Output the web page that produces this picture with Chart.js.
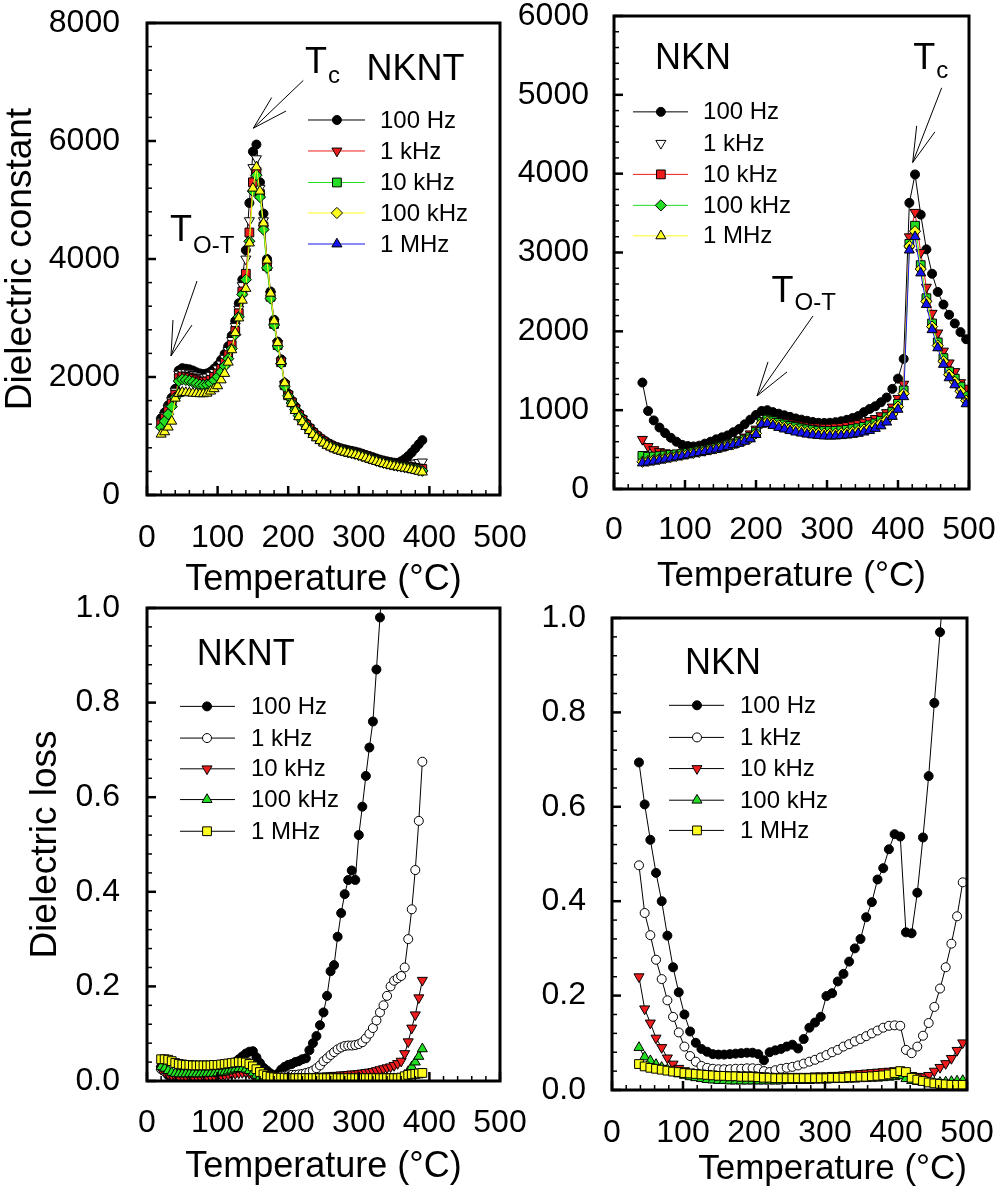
<!DOCTYPE html>
<html><head><meta charset="utf-8">
<script src="https://cdn.jsdelivr.net/npm/chart.js@4.4.0/dist/chart.umd.min.js"></script>
<style>
html,body{margin:0;padding:0;background:#fff;}
#wrap{position:relative;width:1002px;height:1193px;background:#fff;}
canvas{position:absolute;left:0;top:0;}
</style></head><body>
<div id="wrap">
<canvas id="c1" width="1002" height="1193"></canvas>
<canvas id="c2" width="1002" height="1193"></canvas>
<canvas id="c3" width="1002" height="1193"></canvas>
<canvas id="c4" width="1002" height="1193"></canvas>
</div>
<script>
const FONT = "'Liberation Sans', Arial, Helvetica, sans-serif";
const FREQ_LABELS = ['100 Hz', '1 kHz', '10 kHz', '100 kHz', '1 MHz'];
const X_TITLE = 'Temperature (°C)';
const X_TICKS = [0, 100, 200, 300, 400, 500];

// ---------- NKNT temperatures (°C) ----------
const T_NKNT = [20,25,30,35,40,45,50,55,60,65, 70,75,80,85,90,95,100,105,110,115,
  120,125,130,135,140,145,150,155,160,165, 170,175,180,185,190,195,200,205,210,215,
  220,225,230,235,240,245,250,255,260,265, 270,275,280,285,290,295,300,305,310,315,
  320,325,330,335,340,345,350,355,360,365, 370,375,380,385,390];

// NKNT dielectric constant
const NKNT_EPS_100Hz = [1300,1400,1520,1650,1800,2110,2150,2140,2130,2110,
  2080,2060,2050,2060,2090,2140,2200,2290,2390,2520,
  2700,2950,3250,3650,4150,4950,5820,5940,5300,4770,
  4000,3450,2970,2600,2300,1900,1720,1600,1500,1390,
  1300,1220,1150,1080,1020,970,930,890,860,830,
  810,790,775,760,748,735,720,700,680,660,
  640,620,600,585,570,558,548,545,570,610,
  660,720,790,860,930];
const NKNT_EPS_1kHz = [1250,1350,1470,1600,1760,2050,2080,2075,2065,2045,
  2020,2000,1990,2000,2030,2080,2140,2220,2320,2450,
  2620,2860,3150,3550,4000,4650,5550,5700,5200,4650,
  3920,3400,2930,2570,2270,1880,1700,1580,1470,1370,
  1285,1205,1135,1068,1008,958,918,878,848,818,
  797,777,760,745,732,718,702,683,663,643,
  623,603,584,568,553,540,530,522,518,520,
  525,533,542,552,560];
const NKNT_EPS_10kHz = [1200,1300,1420,1550,1700,1980,2010,2000,1990,1970,
  1945,1925,1915,1925,1950,2000,2060,2140,2240,2370,
  2540,2780,3080,3450,3750,4450,5300,5480,5100,4550,
  3880,3360,2900,2540,2250,1860,1690,1570,1455,1355,
  1272,1192,1122,1055,996,947,907,868,838,808,
  787,767,750,735,722,708,692,673,653,633,
  613,593,574,557,542,528,516,506,498,490,
  482,472,460,448,440];
const NKNT_EPS_100kHz = [1150,1250,1370,1500,1650,1930,1960,1950,1935,1915,
  1890,1870,1860,1870,1895,1945,2005,2085,2185,2310,
  2480,2720,3020,3400,3650,4300,5150,5420,5050,4500,
  3850,3330,2880,2520,2230,1840,1680,1560,1445,1345,
  1258,1178,1108,1042,984,935,895,857,827,797,
  776,756,739,724,711,697,681,662,642,622,
  602,582,563,546,531,517,504,493,483,473,
  462,450,437,422,410];
const NKNT_EPS_1MHz = [1030,1070,1150,1250,1640,1720,1740,1735,1730,1725,
  1720,1715,1715,1725,1760,1800,1850,1950,2060,2250,
  2460,2750,3000,3300,3500,4270,5200,5560,5150,4610,
  3980,3420,2950,2580,2260,1900,1680,1550,1430,1325,
  1240,1160,1090,1025,968,920,880,842,812,783,
  762,742,725,710,697,683,667,648,628,608,
  588,568,549,532,516,502,489,477,466,455,
  443,430,416,401,388];

// NKNT dielectric loss
const NKNT_LOSS_100Hz = [0.030,0.022,0.012,0.010,0.012,0.015,0.017,0.018,0.018,0.019,
  0.019,0.020,0.020,0.020,0.021,0.021,0.022,0.024,0.026,0.030,
  0.035,0.040,0.046,0.052,0.058,0.062,0.063,0.050,0.038,0.028,
  0.022,0.016,0.012,0.015,0.024,0.030,0.034,0.036,0.040,0.042,
  0.046,0.048,0.065,0.080,0.095,0.118,0.145,0.180,0.232,0.245,
  0.305,0.355,0.395,0.425,0.445,0.425,0.520,0.580,0.645,0.705,
  0.760,0.870,0.980,1.100,null,null,null,null,null,null,
  null,null,null,null,null];
const NKNT_LOSS_1kHz = [0.025,0.020,0.016,0.013,0.012,0.012,0.012,0.012,0.012,0.012,
  0.012,0.012,0.012,0.013,0.013,0.013,0.014,0.015,0.016,0.018,
  0.020,0.022,0.024,0.025,0.025,0.024,0.022,0.018,0.014,0.011,
  0.009,0.008,0.008,0.009,0.010,0.011,0.012,0.013,0.013,0.014,
  0.015,0.017,0.019,0.022,0.027,0.033,0.042,0.048,0.055,0.061,
  0.067,0.071,0.074,0.075,0.075,0.076,0.078,0.082,0.090,0.100,
  0.112,0.128,0.145,0.160,0.180,0.200,0.212,0.217,0.222,0.240,
  0.300,0.363,0.446,0.550,0.675];
const NKNT_LOSS_10kHz = [0.025,0.020,0.015,0.012,0.010,0.010,0.010,0.010,0.010,0.010,
  0.010,0.010,0.010,0.010,0.010,0.011,0.011,0.012,0.013,0.014,
  0.015,0.016,0.017,0.018,0.018,0.016,0.013,0.010,0.008,0.007,
  0.006,0.006,0.006,0.006,0.006,0.007,0.007,0.007,0.008,0.008,
  0.008,0.009,0.009,0.009,0.010,0.010,0.010,0.011,0.011,0.012,
  0.012,0.013,0.013,0.014,0.015,0.015,0.016,0.017,0.018,0.019,
  0.020,0.022,0.024,0.026,0.028,0.030,0.033,0.037,0.042,0.058,
  0.083,0.112,0.140,0.176,0.213];
const NKNT_LOSS_100kHz = [0.030,0.027,0.022,0.018,0.016,0.015,0.015,0.015,0.015,0.015,
  0.015,0.015,0.015,0.016,0.016,0.016,0.017,0.018,0.019,0.021,
  0.023,0.025,0.026,0.026,0.025,0.022,0.017,0.012,0.008,0.006,
  0.005,0.004,0.004,0.005,0.004,0.004,0.005,0.004,0.004,0.005,
  0.004,0.004,0.005,0.004,0.004,0.005,0.004,0.004,0.005,0.004,
  0.004,0.005,0.004,0.004,0.005,0.004,0.004,0.005,0.004,0.004,
  0.005,0.004,0.004,0.005,0.004,0.004,0.005,0.005,0.006,0.012,
  0.020,0.030,0.040,0.052,0.068];
const NKNT_LOSS_1MHz = [0.046,0.046,0.045,0.042,0.038,0.036,0.035,0.034,0.034,0.033,
  0.033,0.033,0.033,0.033,0.033,0.034,0.034,0.035,0.036,0.037,
  0.038,0.039,0.040,0.040,0.039,0.036,0.031,0.025,0.019,0.014,
  0.011,0.009,0.008,0.007,0.007,0.007,0.006,0.006,0.006,0.006,
  0.006,0.006,0.006,0.006,0.006,0.006,0.006,0.006,0.006,0.006,
  0.006,0.006,0.006,0.006,0.006,0.006,0.006,0.006,0.006,0.006,
  0.006,0.006,0.006,0.006,0.006,0.006,0.006,0.006,0.007,0.010,
  0.013,0.014,0.015,0.016,0.017];

// ---------- NKN dielectric constant ----------
const T_NKN_EPS = [40,48,56,64,72,80,88,96,104,112, 120,128,136,144,152,160,168,176,184,192,
  200,208,216,224,232,240,248,256,264,272, 280,288,296,304,312,320,328,336,344,352,
  360,368,376,384,392,400,408,416,424,432, 440,448,456,464,472,480,488,496];
const NKN_EPS_100Hz = [1350,990,870,780,710,650,600,560,545,540,
  550,575,600,630,655,680,720,760,820,880,
  940,990,1000,975,955,935,915,895,880,865,
  850,840,838,840,848,860,878,900,925,975,
  1015,1050,1100,1160,1270,1400,1650,3630,3990,3480,
  3040,2730,2500,2340,2210,2100,1990,1900];
const NKN_EPS_1kHz = [630,540,500,475,460,452,450,452,458,465,
  475,490,505,525,545,570,595,625,660,700,
  760,870,900,885,870,855,840,825,815,805,
  795,790,785,785,790,795,805,815,830,850,
  870,895,930,970,1040,1150,1330,3200,3510,3000,
  2560,2230,1980,1750,1600,1490,1350,1280];
const NKN_EPS_10kHz = [420,410,412,418,425,432,440,448,458,468,
  480,492,505,520,538,556,576,600,628,660,
  720,850,880,860,840,820,800,785,770,758,
  748,740,735,735,738,742,750,760,772,788,
  808,832,865,910,980,1080,1250,3110,3340,2840,
  2420,2100,1860,1660,1490,1400,1300,1180];
const NKN_EPS_100kHz = [345,355,368,380,393,406,420,433,447,460,
  474,488,502,518,535,553,572,593,618,648,
  705,835,855,830,808,788,768,752,738,725,
  715,708,702,700,702,707,714,724,737,754,
  775,800,833,880,950,1045,1210,3080,3270,2790,
  2380,2060,1820,1620,1450,1360,1240,1120];
const NKN_EPS_1MHz = [330,340,352,365,378,392,405,418,432,446,
  460,475,490,505,522,540,560,580,605,635,
  690,820,830,805,780,760,740,722,708,695,
  685,678,672,670,672,676,683,692,705,722,
  742,768,800,848,920,1010,1170,3030,3200,2740,
  2340,2020,1790,1580,1410,1320,1190,1080];

// ---------- NKN dielectric loss ----------
const T_NKN_LOSS = [38,46,54,62,70,78,86,94,102,110, 118,126,134,142,150,158,166,174,182,190,
  198,206,214,222,230,238,246,254,262,270, 278,286,294,302,310,318,326,334,342,350,
  358,366,374,382,390,398,406,414,422,430, 438,446,454,462,470,478,486,494];
const NKN_LOSS_100Hz = [0.694,0.605,0.530,0.460,0.400,0.327,0.260,0.207,0.160,0.124,
  0.100,0.087,0.081,0.076,0.075,0.075,0.076,0.077,0.078,0.079,
  0.079,0.076,0.063,0.080,0.084,0.087,0.092,0.096,0.088,0.108,
  0.132,0.143,0.155,0.199,0.205,0.230,0.246,0.272,0.300,0.320,
  0.366,0.398,0.446,0.470,0.510,0.542,0.537,0.334,0.332,0.418,
  0.535,0.665,0.820,0.970,1.120,null,null,null];
const NKN_LOSS_1kHz = [0.476,0.375,0.328,0.276,0.235,0.190,0.155,0.122,0.092,0.072,
  0.060,0.051,0.047,0.045,0.044,0.044,0.044,0.045,0.045,0.046,
  0.046,0.045,0.040,0.038,0.042,0.045,0.047,0.049,0.052,0.056,
  0.060,0.064,0.069,0.074,0.080,0.085,0.092,0.097,0.103,0.108,
  0.114,0.120,0.126,0.132,0.136,0.137,0.136,0.085,0.078,0.092,
  0.115,0.142,0.176,0.215,0.260,0.310,0.368,0.440];
const NKN_LOSS_10kHz = [0.240,0.172,0.142,0.110,0.090,0.068,0.055,0.046,0.041,0.038,
  0.036,0.035,0.034,0.033,0.033,0.032,0.032,0.032,0.032,0.032,
  0.032,0.031,0.030,0.029,0.029,0.029,0.029,0.029,0.029,0.029,
  0.029,0.030,0.030,0.030,0.031,0.031,0.032,0.033,0.034,0.035,
  0.036,0.037,0.038,0.039,0.040,0.041,0.042,0.035,0.031,0.029,
  0.028,0.031,0.040,0.048,0.056,0.067,0.084,0.100];
const NKN_LOSS_100kHz = [0.090,0.070,0.062,0.054,0.048,0.043,0.038,0.034,0.031,0.028,
  0.026,0.024,0.022,0.021,0.020,0.020,0.019,0.019,0.019,0.019,
  0.019,0.019,0.019,0.019,0.019,0.019,0.020,0.020,0.020,0.020,
  0.020,0.021,0.021,0.021,0.022,0.022,0.022,0.023,0.023,0.024,
  0.024,0.025,0.025,0.026,0.027,0.028,0.030,0.024,0.020,0.018,
  0.016,0.015,0.015,0.016,0.017,0.018,0.019,0.020];
const NKN_LOSS_1MHz = [0.055,0.050,0.047,0.045,0.043,0.041,0.039,0.038,0.036,0.035,
  0.034,0.033,0.032,0.031,0.030,0.030,0.029,0.029,0.028,0.028,
  0.028,0.027,0.026,0.026,0.025,0.025,0.025,0.025,0.025,0.025,
  0.025,0.025,0.025,0.025,0.026,0.026,0.026,0.027,0.027,0.028,
  0.028,0.029,0.030,0.031,0.033,0.036,0.040,0.038,0.026,0.022,
  0.019,0.016,0.014,0.013,0.012,0.011,0.011,0.011];

// ---------- styles ----------
const BLACK = '#000000', WHITE = '#ffffff', RED = '#ee1c1c', GREEN = '#22dd22', YELLOW = '#ffff1e', BLUE = '#1515ee';
const CJS_STYLE = {circle:'circle', square:'rect', diamond:'rectRot', triUp:'triangle', triDown:'triangle'};
const RADIUS = {circle:4.5, square:6.2, diamond:5.6, triUp:5.8, triDown:5.8};

function drawMarker(ctx, m, x, y, fill) {
  const r = RADIUS[m];
  ctx.save();
  ctx.beginPath();
  if (m === 'circle') ctx.arc(x, y, r, 0, Math.PI * 2);
  else if (m === 'square') { const h = r * Math.SQRT1_2; ctx.rect(x - h, y - h, 2 * h, 2 * h); }
  else if (m === 'diamond') { ctx.moveTo(x, y - r); ctx.lineTo(x + r, y); ctx.lineTo(x, y + r); ctx.lineTo(x - r, y); ctx.closePath(); }
  else if (m === 'triUp') { ctx.moveTo(x, y - r); ctx.lineTo(x + r * 0.866, y + r * 0.5); ctx.lineTo(x - r * 0.866, y + r * 0.5); ctx.closePath(); }
  else if (m === 'triDown') { ctx.moveTo(x, y + r); ctx.lineTo(x + r * 0.866, y - r * 0.5); ctx.lineTo(x - r * 0.866, y - r * 0.5); ctx.closePath(); }
  ctx.fillStyle = fill; ctx.fill();
  ctx.lineWidth = 1; ctx.strokeStyle = BLACK; ctx.stroke();
  ctx.restore();
}

function makeDecor(cfg) {
  return {
    id: 'decor_' + cfg.id,
    afterDatasetsDraw(chart) {
      const ctx = chart.ctx, a = chart.chartArea, xs = chart.scales.x, ys = chart.scales.y;
      const px = v => xs.getPixelForValue(v), py = v => ys.getPixelForValue(v);
      ctx.save();
      // inward ticks
      ctx.strokeStyle = BLACK;
      const nx = Math.round((cfg.xMax - cfg.xMin) / cfg.xMinor);
      const xr = Math.round(cfg.xMajor / cfg.xMinor);
      for (let i = 0; i <= nx; i++) {
        const X = px(cfg.xMin + i * cfg.xMinor), major = i % xr === 0;
        ctx.lineWidth = major ? 2.5 : 1.5;
        ctx.beginPath(); ctx.moveTo(X, a.bottom); ctx.lineTo(X, a.bottom - (major ? 9 : 5)); ctx.stroke();
      }
      const ny = Math.round((cfg.yMax - cfg.yMin) / cfg.yMinor);
      const yr = Math.round(cfg.yMajor / cfg.yMinor);
      for (let i = 0; i <= ny; i++) {
        const Y = py(cfg.yMin + i * cfg.yMinor), major = i % yr === 0;
        ctx.lineWidth = major ? 2.5 : 1.5;
        ctx.beginPath(); ctx.moveTo(a.left, Y); ctx.lineTo(a.left + (major ? 9 : 5), Y); ctx.stroke();
      }
      // frame
      ctx.lineWidth = 3;
      ctx.strokeRect(a.left, a.top, a.right - a.left, a.bottom - a.top);
      // legend
      const L = cfg.legend;
      ctx.font = '24px ' + FONT; ctx.textBaseline = 'middle'; ctx.textAlign = 'left';
      L.items.forEach((it, i) => {
        const Y = py(L.rows[i]);
        if (it.line) {
          ctx.strokeStyle = it.line; ctx.lineWidth = 1;
          ctx.beginPath(); ctx.moveTo(px(L.lineFrom), Y); ctx.lineTo(px(L.lineTo), Y); ctx.stroke();
        }
        drawMarker(ctx, it.marker, px(L.markerAt), Y, it.fill);
        ctx.fillStyle = BLACK;
        ctx.fillText(FREQ_LABELS[i], px(L.textAt), Y + 1);
      });
      // labels
      ctx.textBaseline = 'alphabetic';
      cfg.labels.forEach(lb => {
        const X = px(lb.x), Y = py(lb.y);
        ctx.fillStyle = BLACK;
        ctx.font = (lb.size || 36) + 'px ' + FONT;
        ctx.fillText(lb.text, X, Y);
        if (lb.sub) {
          const w = ctx.measureText(lb.text).width;
          ctx.font = '24px ' + FONT;
          ctx.fillText(lb.sub, X + w + 1, Y + lb.subDy);
        }
      });
      // arrows
      ctx.strokeStyle = BLACK; ctx.lineWidth = 1;
      cfg.arrows.forEach(ar => {
        const tx = px(ar.tip[0]), ty = py(ar.tip[1]);
        [ar.tail, ar.barbs[0], ar.barbs[1]].forEach(p => {
          ctx.beginPath(); ctx.moveTo(tx, ty); ctx.lineTo(px(p[0]), py(p[1])); ctx.stroke();
        });
      });
      ctx.restore();
    }
  };
}

function buildPanel(cfg) {
  const datasets = cfg.series.map((s, k) => ({
    label: FREQ_LABELS[k],
    order: -k,
    data: cfg.T.map((t, i) => ({x: t, y: s.values[i]})),
    showLine: !!s.line,
    borderColor: s.line || 'rgba(0,0,0,0)',
    borderWidth: 1,
    pointStyle: CJS_STYLE[s.marker],
    pointRotation: s.marker === 'triDown' ? 180 : 0,
    pointRadius: RADIUS[s.marker],
    pointHoverRadius: RADIUS[s.marker],
    pointBackgroundColor: s.fill,
    pointBorderColor: BLACK,
    pointBorderWidth: 1,
    spanGaps: false,
    tension: 0
  }));
  return new Chart(document.getElementById(cfg.id), {
    type: 'line',
    data: {datasets},
    plugins: [makeDecor(cfg)],
    options: {
      responsive: false, animation: false, devicePixelRatio: 1, events: [],
      layout: {padding: cfg.pad, autoPadding: false},
      plugins: {legend: {display: false}, tooltip: {enabled: false}},
      scales: {
        x: {
          type: 'linear', position: 'bottom', min: cfg.xMin, max: cfg.xMax,
          afterBuildTicks: s => { s.ticks = X_TICKS.map(v => ({value: v})); },
          ticks: {padding: cfg.xTickPad, color: BLACK, maxRotation: 0, autoSkip: false,
                  font: {family: FONT, size: 32, lineHeight: 1.2}, callback: v => String(v)},
          grid: {display: false}, border: {display: false},
          title: {display: true, text: X_TITLE, color: BLACK, align: cfg.xTitleAlign,
                  font: {family: FONT, size: cfg.xTitleSize, lineHeight: 1.1},
                  padding: {top: 0, bottom: cfg.xTitlePad}},
          afterFit: s => { s.height = cfg.xH; s.paddingLeft = 0; s.paddingRight = 0; }
        },
        y: {
          type: 'linear', position: 'left', min: cfg.yMin, max: cfg.yMax,
          afterBuildTicks: s => { s.ticks = cfg.yTicks.map(v => ({value: v})); },
          ticks: {padding: cfg.yTickPad, color: BLACK, autoSkip: false,
                  font: {family: FONT, size: 32, lineHeight: 1.2},
                  callback: v => cfg.yDec ? Number(v).toFixed(cfg.yDec) : String(v)},
          grid: {display: false}, border: {display: false},
          title: {display: !!cfg.yTitle, text: cfg.yTitle || '', color: BLACK,
                  font: {family: FONT, size: 37, lineHeight: 1.1},
                  padding: {top: cfg.yTitlePad || 0, bottom: 0}},
          afterFit: s => { s.width = cfg.yW; s.paddingTop = 0; s.paddingBottom = 0; }
        }
      }
    }
  });
}

// ---------- Panel 1: NKNT dielectric constant ----------
buildPanel({
  id: 'c1', pad: {left: 0, top: 23, right: 502, bottom: 593},
  yW: 147, xH: 105, xTickPad: 16, yTickPad: 19, xTitlePad: 0, xTitleSize: 36, xTitleAlign: 'center',
  yTitle: 'Dielectric constant', yTitlePad: 0,
  xMin: 0, xMax: 500, xMajor: 100, xMinor: 20,
  yMin: 0, yMax: 8000, yMajor: 2000, yMinor: 400, yTicks: [0, 2000, 4000, 6000, 8000], yDec: 0,
  T: T_NKNT,
  series: [
    {values: NKNT_EPS_100Hz, marker: 'circle', fill: BLACK, line: BLACK},
    {values: NKNT_EPS_1kHz, marker: 'triDown', fill: WHITE, line: null},
    {values: NKNT_EPS_10kHz, marker: 'square', fill: RED, line: RED},
    {values: NKNT_EPS_100kHz, marker: 'diamond', fill: GREEN, line: GREEN},
    {values: NKNT_EPS_1MHz, marker: 'triUp', fill: YELLOW, line: YELLOW}
  ],
  legend: {rows: [6356, 5831, 5297, 4780, 4254], lineFrom: 228, lineTo: 308.8, markerAt: 269, textAt: 330,
    items: [{marker: 'circle', fill: BLACK, line: BLACK}, {marker: 'triDown', fill: RED, line: RED},
            {marker: 'square', fill: GREEN, line: GREEN}, {marker: 'diamond', fill: YELLOW, line: YELLOW},
            {marker: 'triUp', fill: BLUE, line: BLUE}]},
  labels: [
    {x: 311, y: 7041, text: 'NKNT'},
    {x: 223.8, y: 7153, text: 'T', sub: 'c', subDy: 10},
    {x: 32.6, y: 4305, text: 'T', sub: 'O-T', subDy: 11.5}
  ],
  arrows: [
    {tip: [150.6, 6217], tail: [221.4, 7027], barbs: [[176.6, 6736], [196.9, 6508]]},
    {tip: [34, 2356], tail: [70.8, 3627], barbs: [[36.8, 2966], [63.7, 2881]]}
  ]
});

// ---------- Panel 2: NKN dielectric constant ----------
buildPanel({
  id: 'c2', pad: {left: 510, top: 16, right: 33, bottom: 593},
  yW: 104, xH: 111, xTickPad: 14, yTickPad: 17, xTitlePad: 4, xTitleSize: 35, xTitleAlign: 'center',
  yTitle: null,
  xMin: 0, xMax: 500, xMajor: 100, xMinor: 20,
  yMin: 0, yMax: 6000, yMajor: 1000, yMinor: 200, yTicks: [0, 1000, 2000, 3000, 4000, 5000, 6000], yDec: 0,
  T: T_NKN_EPS,
  series: [
    {values: NKN_EPS_100Hz, marker: 'circle', fill: BLACK, line: BLACK},
    {values: NKN_EPS_1kHz, marker: 'triDown', fill: RED, line: RED},
    {values: NKN_EPS_10kHz, marker: 'square', fill: GREEN, line: GREEN},
    {values: NKN_EPS_100kHz, marker: 'diamond', fill: YELLOW, line: YELLOW},
    {values: NKN_EPS_1MHz, marker: 'triUp', fill: BLUE, line: BLUE}
  ],
  legend: {rows: [4784, 4385, 3991, 3598, 3211], lineFrom: 26.8, lineTo: 104.2, markerAt: 66, textAt: 125.4,
    items: [{marker: 'circle', fill: BLACK, line: BLACK}, {marker: 'triDown', fill: WHITE, line: null},
            {marker: 'square', fill: RED, line: RED}, {marker: 'diamond', fill: GREEN, line: GREEN},
            {marker: 'triUp', fill: YELLOW, line: YELLOW}]},
  labels: [
    {x: 57.7, y: 5330, text: 'NKN'},
    {x: 421.6, y: 5330, text: 'T', sub: 'c', subDy: 9.5},
    {x: 222, y: 2373, text: 'T', sub: 'O-T', subDy: 8}
  ],
  arrows: [
    {tip: [420.7, 4142], tail: [461.5, 5089], barbs: [[426.3, 4607], [452, 4530]]},
    {tip: [201.4, 1180], tail: [280.3, 2195], barbs: [[216.9, 1612], [243.7, 1485]]}
  ]
});

// ---------- Panel 3: NKNT dielectric loss ----------
buildPanel({
  id: 'c3', pad: {left: 0, top: 608, right: 502, bottom: 0},
  yW: 147, xH: 112, xTickPad: 15, yTickPad: 19, xTitlePad: 6, xTitleSize: 36, xTitleAlign: 'center',
  yTitle: 'Dielectric loss', yTitlePad: 25,
  xMin: 0, xMax: 500, xMajor: 100, xMinor: 20,
  yMin: 0, yMax: 1, yMajor: 0.2, yMinor: 0.04, yTicks: [0, 0.2, 0.4, 0.6, 0.8, 1.0], yDec: 1,
  T: T_NKNT,
  series: [
    {values: NKNT_LOSS_100Hz, marker: 'circle', fill: BLACK, line: BLACK},
    {values: NKNT_LOSS_1kHz, marker: 'circle', fill: WHITE, line: BLACK},
    {values: NKNT_LOSS_10kHz, marker: 'triDown', fill: RED, line: BLACK},
    {values: NKNT_LOSS_100kHz, marker: 'triUp', fill: GREEN, line: BLACK},
    {values: NKNT_LOSS_1MHz, marker: 'square', fill: YELLOW, line: BLACK}
  ],
  legend: {rows: [0.792, 0.725, 0.660, 0.595, 0.528], lineFrom: 46.7, lineTo: 124.6, markerAt: 85, textAt: 147.3,
    items: [{marker: 'circle', fill: BLACK, line: BLACK}, {marker: 'circle', fill: WHITE, line: BLACK},
            {marker: 'triDown', fill: RED, line: BLACK}, {marker: 'triUp', fill: GREEN, line: BLACK},
            {marker: 'square', fill: YELLOW, line: BLACK}]},
  labels: [{x: 70.4, y: 0.8795, text: 'NKNT'}],
  arrows: []
});

// ---------- Panel 4: NKN dielectric loss ----------
buildPanel({
  id: 'c4', pad: {left: 510, top: 618, right: 35, bottom: 0},
  yW: 102, xH: 103, xTickPad: 16, yTickPad: 18, xTitlePad: 4, xTitleSize: 35, xTitleAlign: 'end',
  yTitle: null,
  xMin: 0, xMax: 500, xMajor: 100, xMinor: 20,
  yMin: 0, yMax: 1, yMajor: 0.2, yMinor: 0.04, yTicks: [0, 0.2, 0.4, 0.6, 0.8, 1.0], yDec: 1,
  T: T_NKN_LOSS,
  series: [
    {values: NKN_LOSS_100Hz, marker: 'circle', fill: BLACK, line: BLACK},
    {values: NKN_LOSS_1kHz, marker: 'circle', fill: WHITE, line: BLACK},
    {values: NKN_LOSS_10kHz, marker: 'triDown', fill: RED, line: BLACK},
    {values: NKN_LOSS_100kHz, marker: 'triUp', fill: GREEN, line: BLACK},
    {values: NKN_LOSS_1MHz, marker: 'square', fill: YELLOW, line: BLACK}
  ],
  legend: {rows: [0.815, 0.747, 0.681, 0.614, 0.550], lineFrom: 80.3, lineTo: 157.7, markerAt: 119.7, textAt: 180.3,
    items: [{marker: 'circle', fill: BLACK, line: BLACK}, {marker: 'circle', fill: WHITE, line: BLACK},
            {marker: 'triDown', fill: RED, line: BLACK}, {marker: 'triUp', fill: GREEN, line: BLACK},
            {marker: 'square', fill: YELLOW, line: BLACK}]},
  labels: [{x: 102.8, y: 0.881, text: 'NKN'}],
  arrows: []
});
</script>
</body></html>
